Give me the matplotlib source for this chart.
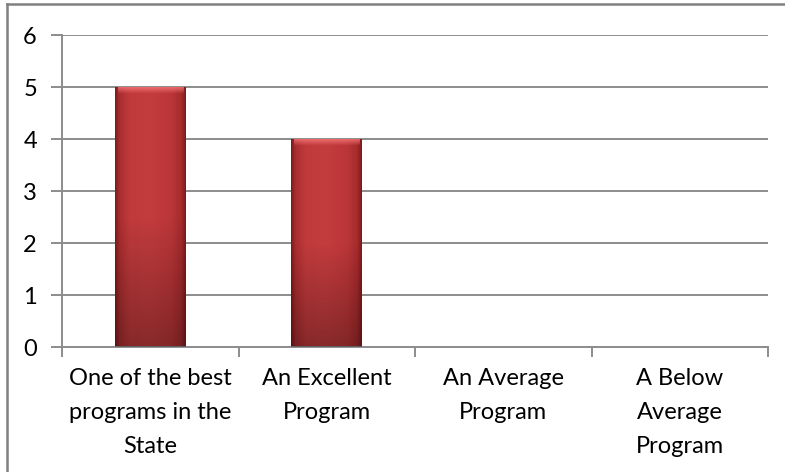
import numpy as np
import matplotlib.pyplot as plt
from matplotlib.lines import Line2D
from matplotlib.colors import LinearSegmentedColormap

categories = ["One of the best\nprograms in the\nState", "An Excellent\nProgram",
              "An Average\nProgram", "A Below\nAverage\nProgram"]
counts = [5, 4, 0, 0]
y_ticks = [0, 1, 2, 3, 4, 5, 6]

plt.rcParams['font.family'] = ['Lato', 'DejaVu Sans']
grid_col = "#8c8c8c"

fig = plt.figure(figsize=(7.85, 4.72), dpi=100)
ax = fig.add_axes([62 / 785, 1 - 347 / 472, 706 / 785, 312 / 472])

x = np.arange(len(categories))
bars = ax.bar(x, counts, width=0.4, color="#bd3739", zorder=2)

# shaded cylinder look: dark edges, flat middle, light top bevel
cmap = LinearSegmentedColormap.from_list(
    "bar", [(0, "#7e1a1c"), (0.06, "#a92d2f"), (0.2, "#c03a3c"), (0.5, "#c33c3e"),
            (0.8, "#bb3638"), (0.94, "#a52b2d"), (1, "#7e1a1c")])
for b in bars:
    h = b.get_height()
    if h <= 0:
        continue
    gx = np.linspace(0, 1, 200)
    img = np.tile(gx, (100, 1))
    ax.imshow(cmap(img), extent=[b.get_x(), b.get_x() + b.get_width(), 0, h],
              aspect="auto", origin="lower", zorder=2.5)
    shade = np.zeros((100, 2, 4))
    shade[..., 3] = np.clip(np.linspace(0.3, -0.3, 100), 0, None)[:, None]
    ax.imshow(shade, extent=[b.get_x(), b.get_x() + b.get_width(), 0, h],
              aspect="auto", origin="lower", zorder=2.6)
    top = np.zeros((10, 2, 4))
    top[..., :3] = [1.0, 0.5, 0.5]
    top[..., 3] = np.linspace(0, 0.7, 10)[:, None]
    ax.imshow(top, extent=[b.get_x() + 0.015, b.get_x() + b.get_width() - 0.015, h - 0.13, h],
              aspect="auto", origin="lower", zorder=2.7)

ax.set_xlim(-0.5, len(categories) - 0.5)
ax.set_ylim(0, 6)
ax.set_yticks(y_ticks)
ax.set_yticklabels([str(v) for v in y_ticks], fontsize=17)
ax.yaxis.grid(True, color=grid_col, linewidth=1.4, zorder=0)
ax.set_axisbelow(True)

ax.set_xticks(np.arange(-0.5, len(categories), 1.0))
ax.set_xticklabels([])
ax.tick_params(axis="x", length=7, color=grid_col, width=1.4)
ax.tick_params(axis="y", length=8, color=grid_col, width=1.4, pad=10)
for i, lab in enumerate(categories):
    ax.text(i, -0.41, lab, ha="center", va="top", fontsize=17, linespacing=1.75)

for side in ["top", "right"]:
    ax.spines[side].set_visible(False)
for side in ["left", "bottom"]:
    ax.spines[side].set_color(grid_col)
    ax.spines[side].set_linewidth(1.4)

# chart frame (cropped on right and bottom)
fig.add_artist(Line2D([7 / 785, 7 / 785], [0, 1 - 4 / 472], color="#808080", linewidth=1.8))
fig.add_artist(Line2D([7 / 785, 1], [1 - 4 / 472, 1 - 4 / 472], color="#808080", linewidth=1.8))

fig.savefig("out.png", dpi=100)
